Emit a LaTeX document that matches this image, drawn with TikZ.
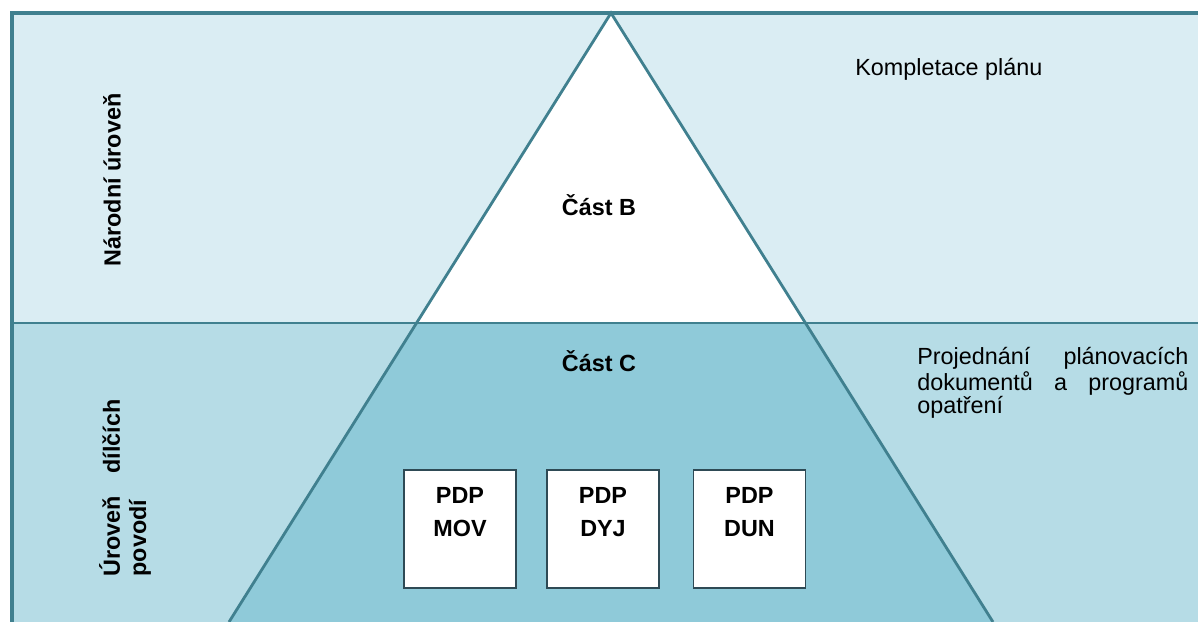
\documentclass[tikz,border=0pt]{standalone}
\usepackage{fontspec}
\setmainfont{Liberation Sans}
\definecolor{bandtop}{HTML}{DAEDF3}
\definecolor{bandlow}{HTML}{B6DCE6}
\definecolor{trilow}{HTML}{8FCAD9}
\definecolor{edgeblue}{HTML}{40808F}
\definecolor{boxedge}{HTML}{2E4A55}
\begin{document}
\begin{tikzpicture}[x=0.02cm,y=-0.02cm,
	edgeline/.style={draw=edgeblue},
	txt/.style={font=\fontsize{13.3}{15}\selectfont,inner sep=0pt},
	boldtxt/.style={txt,font=\fontsize{13.3}{15}\selectfont\bfseries},
	pdpbox/.style={draw=boxedge,line width=1.1pt,fill=white,boldtxt,inner xsep=0pt,inner ysep=0.34cm,
		execute at begin node={\begin{minipage}[t][1.68cm][t]{2.24cm}\centering\baselineskip=19pt},
		execute at end node={\end{minipage}}}]
	\useasboundingbox (0,0) rectangle (1198,622);
	\fill[bandtop] (12,13) rectangle (1198,323);
	\fill[bandlow] (12,323) rectangle (1198,622);
	\coordinate (T) at (611,13);
	\coordinate (L) at (416,323);
	\coordinate (R) at (806,323);
	\coordinate (BL) at (229,622);
	\coordinate (BR) at (993,622);
	\fill[white] (T)--(L)--(R)--cycle;
	\fill[trilow] (L)--(BL)--(BR)--(R)--cycle;
	\draw[edgeline,line width=1.6pt] (BL)--(T)--(BR);
	\draw[edgeline,line width=1.7pt] (12,323)coordinate (ML)--(1198,323)coordinate (MR);
	\draw[edgeline,line width=2.4pt] (1198,13)--(12,13)--(12,622);

	\node[boldtxt,rotate=90] (narodni) at (112,180) {Národní úroveň};
	\node[boldtxt,rotate=90,text width=3.54cm,align=justify,font=\fontsize{13.3}{15}\selectfont\bfseries] (dilci) at (125,488) {Úroveň dílčích povodí};
	\node[txt,anchor=base west] (kompletace) at (855,75) {Kompletace plánu};
	\node[txt,anchor=north west,text width=5.42cm,align=justify,font=\fontsize{13.3}{12}\selectfont] (projednani) at (917,347) {Projednání plánovacích dokumentů a programů opatření};
	\node[boldtxt] (castB) at (599,205) {Část B};
	\node[boldtxt] (castC) at (599,361) {Část C};

	\node[pdpbox] (mov) at (460,529) {PDP\\MOV};
	\node[pdpbox] (dyj) at (603,529) {PDP\\DYJ};
	\node[pdpbox] (dun) at (749.5,529) {PDP\\DUN};
\end{tikzpicture}
\end{document}
